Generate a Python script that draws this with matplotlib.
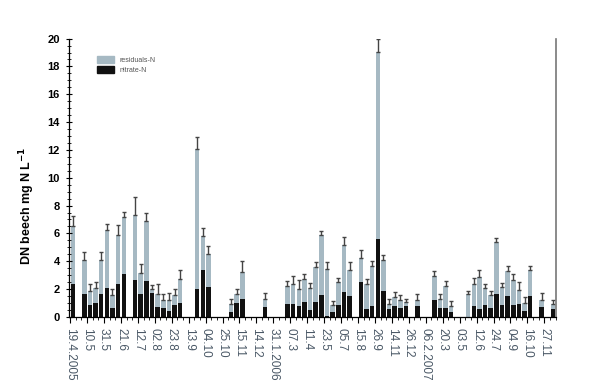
import matplotlib
matplotlib.use("Agg")
import matplotlib.pyplot as plt
import numpy as np
from matplotlib.patches import Patch

plt.rcParams["font.family"] = ["Liberation Sans", "DejaVu Sans"]

GREY = "#a6b9c3"
BLACK = "#111111"

# sampling slot (weekly grid, 86 slots) and values in mg N per litre
week = [0, 2, 3, 4, 5, 6, 7, 8, 9, 11, 12, 13, 14, 15, 16, 17, 18, 19,
        22, 23, 24, 28, 29, 30, 34, 38, 39, 40, 41, 42, 43, 44, 45, 46,
        47, 48, 49, 51, 52, 53, 54, 55, 56, 57, 58, 59, 61, 64, 65, 66,
        67, 70, 71, 72, 73, 74, 75, 76, 77, 78, 79, 80, 81, 83, 85]
nitrate = [2.35, 1.63, 0.84, 1.0, 1.63, 2.1, 0.65, 2.4, 3.07, 2.64, 1.68, 2.6,
           1.73, 0.72, 0.65, 0.43, 0.82, 1.0, 1.97, 3.36, 2.16, 0.34, 1.0, 1.32,
           0.72, 0.91, 0.91, 0.77, 1.08, 0.53, 1.1, 1.61, 0.1, 0.38, 0.82, 1.8,
           1.47, 2.5, 0.55, 0.77, 5.57, 1.87, 0.6, 0.77, 0.67, 0.77, 0.77, 1.25,
           0.65, 0.65, 0.34, 0.0, 0.77, 0.6, 0.89, 0.65, 1.68, 0.84, 1.49, 0.84,
           0.96, 0.41, 1.51, 0.72, 0.6]
residual = [4.15, 2.45, 1.01, 1.1, 2.45, 4.18, 0.95, 3.48, 4.13, 4.66, 1.44, 4.28,
            0.27, 0.96, 0.6, 0.77, 0.74, 1.71, 10.09, 2.44, 2.34, 0.57, 0.63, 1.92,
            0.6, 1.29, 1.44, 1.27, 1.65, 1.58, 2.5, 4.27, 3.33, 0.51, 1.7, 3.4,
            1.89, 1.74, 1.78, 2.88, 13.5, 2.21, 0.36, 0.67, 0.53, 0.31, 0.48, 1.68,
            0.67, 1.55, 0.43, 1.65, 1.63, 2.26, 1.2, 0.91, 3.72, 1.32, 1.82, 1.8,
            0.96, 0.59, 1.85, 0.53, 0.31]
sd = [0.75, 0.6, 0.55, 0.4, 0.6, 0.39, 0.4, 0.69, 0.35, 1.3, 0.68, 0.6,
      0.28, 0.72, 0.43, 0.53, 0.41, 0.65, 0.84, 0.56, 0.58, 0.41, 0.41, 0.76,
      0.43, 0.39, 0.6, 0.6, 0.34, 0.34, 0.38, 0.29, 0.55, 0.26, 0.25, 0.51,
      0.6, 0.56, 0.38, 0.38, 0.93, 0.36, 0.34, 0.36, 0.34, 0.2, 0.43, 0.38,
      0.36, 0.39, 0.36, 0.2, 0.36, 0.5, 0.31, 0.31, 0.24, 0.29, 0.34, 0.41,
      0.6, 0.4, 0.31, 0.48, 0.34]

date_labels = ["19.4.2005", "10.5", "31.5", "21.6", "12.7", "02.8", "23.8", "13.9",
               "04.10", "25.10", "15.11", "14.12", "31.1.2006", "07.3", "11.4",
               "23.5", "05.7", "15.8", "26.9", "14.11", "26.12", "06.2.2007",
               "20.3", "03.5", "12.6", "24.7", "04.9", "16.10", "27.11"]

x = np.array(week)
nitrate = np.array(nitrate)
residual = np.array(residual)
total = nitrate + residual

fig = plt.figure(figsize=(6.0, 3.86), dpi=100)
ax = fig.add_axes([0.115, 0.179, 0.812, 0.721])

ax.bar(x, nitrate, width=0.8, color=BLACK, linewidth=0)
ax.bar(x, residual, width=0.8, bottom=nitrate, color=GREY, linewidth=0)
ax.errorbar(x, total, yerr=[np.zeros_like(total), sd], fmt="none",
            ecolor="#444444", elinewidth=1.0, capsize=1.6, capthick=1.0)

ax.set_xlim(-0.7, 85.6)
ax.set_ylim(0, 20)

tick_pos = np.arange(len(date_labels)) * 3 - 0.5
ax.set_xticks(tick_pos)
ax.set_xticklabels(date_labels, rotation=270, fontsize=8.5, color="#4a5866")
ax.set_xticks(np.arange(-0.5, 85.6, 1), minor=True)
ax.tick_params(axis="x", which="major", length=4, width=0.8, direction="out", pad=4)
ax.tick_params(axis="x", which="minor", length=2.5, width=0.6, direction="out")

ax.set_yticks(np.arange(0, 21, 2))
ax.set_yticks(np.arange(0, 20.1, 0.5), minor=True)
ax.tick_params(axis="y", which="major", length=5, width=0.8, direction="inout",
               labelsize=8, pad=4)
ax.tick_params(axis="y", which="minor", length=2.5, width=0.6, direction="inout")
for lab in ax.get_yticklabels():
    lab.set_fontweight("bold")

ax.set_ylabel("DN beech mg N L$^{\\mathbf{-1}}$", fontsize=9, fontweight="bold")
ax.yaxis.set_label_coords(-0.066, 0.40)

ax.spines["top"].set_visible(False)
ax.spines["right"].set_color("#777777")
ax.spines["right"].set_linewidth(1.2)
ax.spines["left"].set_linewidth(0.9)
ax.spines["bottom"].set_linewidth(0.9)

handles = [Patch(color=GREY, label="residuals-N"), Patch(color=BLACK, label="nitrate-N")]
ax.legend(handles=handles, loc="upper left", bbox_to_anchor=(0.045, 0.96), frameon=False,
          fontsize=5, handlelength=2.4, handleheight=1.1, handletextpad=0.8,
          labelspacing=0.35, labelcolor="#555555")

fig.savefig("out.png", dpi=100)
